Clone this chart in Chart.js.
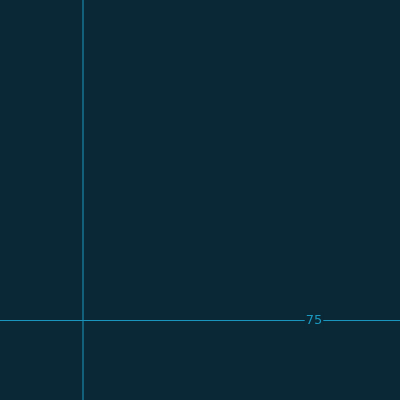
<!DOCTYPE html>
<html lang="en">
<head>
    <meta charset="UTF-8">
    <title>Threshold chart</title>
    <script src="https://cdn.jsdelivr.net/npm/chart.js"></script>
    <style>
        html, body { margin: 0; padding: 0; background: #0a2836; }
        #wrap { width: 400px; height: 400px; }
    </style>
</head>
<body>
<div id="wrap"><canvas id="chart" width="400" height="400"></canvas></div>
<script>
    // data
    const xRange = [0, 100];
    const yRange = [60, 135.5];
    const thresholdValue = 75;
    const markerX = 20.75;
    const thresholdLabel = '75';
    const labelAtX = 78.5;

    const lineColor = '#1b98bf';
    const bgColor = '#0a2836';

    // draws the threshold value on top of the line, with a gap behind it
    const thresholdLabelPlugin = {
        id: 'thresholdLabel',
        afterDatasetsDraw(chart) {
            const ctx = chart.ctx;
            const px = chart.scales.x.getPixelForValue(labelAtX);
            const py = chart.scales.y.getPixelForValue(thresholdValue);
            ctx.save();
            ctx.font = '13px "DejaVu Sans", sans-serif';
            const w = ctx.measureText(thresholdLabel).width;
            ctx.fillStyle = bgColor;
            ctx.fillRect(px - w / 2 - 1, py - 8, w + 2, 16);
            ctx.fillStyle = lineColor;
            ctx.textAlign = 'center';
            ctx.textBaseline = 'middle';
            ctx.fillText(thresholdLabel, px, py + 0.5);
            ctx.restore();
        }
    };

    new Chart(document.getElementById('chart'), {
        type: 'line',
        data: {
            datasets: [
                {
                    label: 'threshold',
                    data: [{ x: xRange[0], y: thresholdValue }, { x: xRange[1], y: thresholdValue }],
                    borderColor: lineColor,
                    borderWidth: 1,
                    pointRadius: 0
                },
                {
                    label: 'marker',
                    data: [{ x: markerX, y: yRange[0] }, { x: markerX, y: yRange[1] }],
                    borderColor: lineColor,
                    borderWidth: 1,
                    pointRadius: 0
                }
            ]
        },
        options: {
            responsive: false,
            animation: false,
            layout: { padding: 0 },
            plugins: { legend: { display: false }, tooltip: { enabled: false } },
            scales: {
                x: { type: 'linear', min: xRange[0], max: xRange[1], display: false },
                y: { type: 'linear', min: yRange[0], max: yRange[1], display: false }
            }
        },
        plugins: [thresholdLabelPlugin]
    });
</script>
</body>
</html>
